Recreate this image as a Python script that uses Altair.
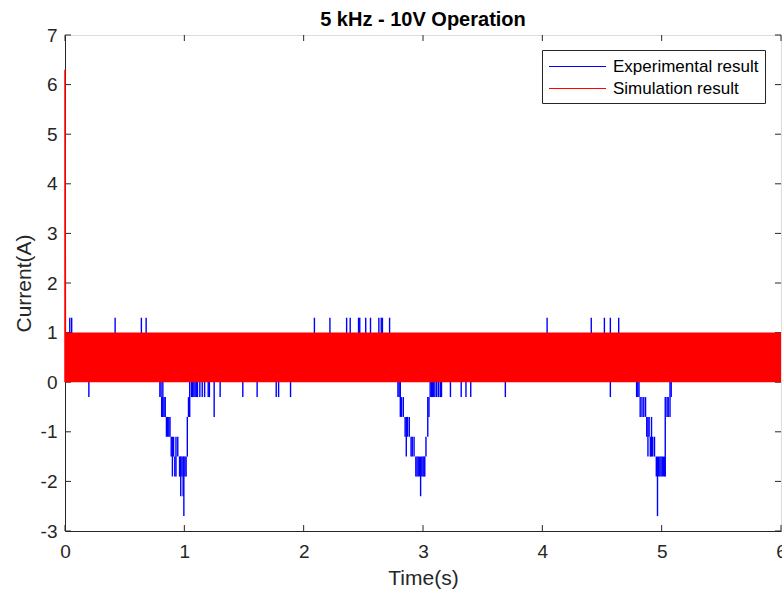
import altair as alt
import pandas as pd

# ---------------- data ----------------
series_names = ["Experimental result", "Simulation result"]
series_colors = ["#0000FF", "#FF0000"]

x_ticks = [0, 1, 2, 3, 4, 5, 6]
y_ticks = [-3, -2, -1, 0, 1, 2, 3, 4, 5, 6, 7]

# Simulation: start-up transient and the fast 0..1 A switching band
sim_t = [0.0, 0.0, 0.004]
sim_i = [0.0, 6.3, 0.0]
sim_band_t0 = [0.0]
sim_band_t1 = [6.0]
sim_band_lo = [0.0]
sim_band_hi = [1.0]

# Experimental: upward spikes (to 1.3 A)
up_t = [0.04, 0.056, 0.42, 0.64, 0.68, 2.09, 2.22, 2.36, 2.39, 2.46, 2.47,
        2.52, 2.56, 2.63, 2.65, 2.66, 2.72, 4.04, 4.41, 4.52, 4.57, 4.64]
up_lo = [0.5] * 22
up_hi = [1.3] * 22

# Experimental: short downward spikes (to -0.3 A)
dn_t = [0.20, 0.795, 0.805, 1.06, 1.07, 1.08, 1.09, 1.10, 1.11, 1.13, 1.15,
        1.17, 1.20, 1.21, 1.30, 1.49, 1.61, 1.77, 1.79, 1.89,
        2.79, 2.80, 3.06, 3.07, 3.08, 3.09, 3.10, 3.115, 3.13, 3.145, 3.155,
        3.23, 3.32, 3.36, 3.40, 3.69, 4.57, 4.79, 4.80, 4.81, 5.08]
dn_lo = [-0.3] * 41
dn_hi = [0.1] * 41

# Experimental: the three current dips (stepped)
dip_t = [0.81, 0.815, 0.82, 0.83, 0.84, 0.85, 0.86, 0.87, 0.88, 0.89, 0.90,
         0.91, 0.92, 0.93, 0.945, 0.96, 0.965, 0.97, 0.98, 0.99, 0.996,
         1.005, 1.015, 1.025, 1.035, 1.045, 1.25,
         2.81, 2.82, 2.835, 2.85, 2.86, 2.87, 2.885, 2.90, 2.91, 2.925, 2.94,
         2.95, 2.96, 2.97, 2.98, 2.99, 3.00, 3.008, 3.015, 3.025, 3.04, 3.05,
         4.82, 4.835, 4.85, 4.865, 4.875, 4.885, 4.895, 4.905, 4.915, 4.925,
         4.94, 4.955, 4.965, 4.975, 4.985, 4.995, 5.005, 5.015, 5.025, 5.03,
         5.045, 5.055, 5.07]
dip_lo = [-0.7, -0.7, -0.7, -0.7, -0.7, -1.1, -1.1, -1.1, -1.1, -1.5, -1.9,
          -1.5, -1.9, -1.9, -1.5, -1.9, -1.9, -2.3, -1.9, -2.3, -2.7,
          -1.9, -1.9, -1.5, -0.7, -0.7, -0.7,
          -0.7, -0.7, -0.7, -1.1, -1.5, -1.1, -1.1, -1.5, -1.5, -1.5, -1.9,
          -1.9, -1.9, -1.9, -2.3, -1.9, -1.9, -1.9, -1.9, -1.5, -1.1, -0.7,
          -0.7, -0.7, -0.7, -0.7, -1.1, -1.5, -1.1, -1.5, -1.5, -1.5,
          -1.5, -1.9, -2.7, -1.9, -1.9, -1.9, -1.9, -1.9, -1.9, -1.9,
          -0.7, -0.7, -0.7]
dip_hi = [-0.3, -0.3, 0.1, -0.3, -0.3, -0.7, -0.7, -0.7, -0.7, -1.1, -1.1,
          -1.1, -1.5, -1.1, -1.1, -1.5, -1.5, -1.5, -1.5, -1.5, -1.5,
          -1.5, -1.5, -0.7, -0.3, 0.1, 0.1,
          0.1, -0.3, -0.3, -0.7, -0.7, -0.7, -0.7, -1.1, -1.1, -1.1, -1.5,
          -1.5, -1.5, -1.5, -1.5, -1.5, -1.5, -1.5, -1.5, -1.1, -0.3, -0.3,
          -0.3, -0.3, -0.3, -0.3, -0.7, -0.7, -0.7, -1.1, -0.7, -1.1,
          -1.1, -1.5, -1.5, -1.5, -1.5, -1.5, -1.5, -1.5, -1.5, -0.3,
          -0.3, -0.3, 0.1]

# ---------------- tables ----------------
exp_df = pd.DataFrame({
    "t": up_t + dn_t + dip_t,
    "lo": up_lo + dn_lo + dip_lo,
    "hi": up_hi + dn_hi + dip_hi,
})
exp_df["series"] = series_names[0]

sim_df = pd.DataFrame({"t": sim_t, "i": sim_i, "k": list(range(len(sim_t)))})
sim_df["series"] = series_names[1]

band_df = pd.DataFrame({"t0": sim_band_t0, "t1": sim_band_t1,
                        "lo": sim_band_lo, "hi": sim_band_hi})
xt_df = pd.DataFrame({"v": x_ticks})
yt_df = pd.DataFrame({"v": y_ticks})

# ---------------- styling ----------------
W, H, TK = 716, 496, 6
FONT = "Liberation Sans"
GRAY = "#262626"

XS = alt.Scale(domain=[0, 6], nice=False, zero=False)
YS = alt.Scale(domain=[-3, 7], nice=False, zero=False)
XA = alt.Axis(title="Time(s)", values=x_ticks, ticks=False, tickSize=0,
              grid=False, domainColor=GRAY, labelColor=GRAY, titleColor=GRAY,
              labelFont=FONT, titleFont=FONT, labelFontSize=19,
              titleFontSize=21, titleFontWeight="normal", labelPadding=11,
              titlePadding=6, labelExpr="'' + datum.value", labelFlush=False)
YA = alt.Axis(title="Current(A)", values=y_ticks, ticks=False, tickSize=0,
              grid=False, domainColor=GRAY, labelColor=GRAY, titleColor=GRAY,
              labelFont=FONT, titleFont=FONT, labelFontSize=19,
              titleFontSize=21, titleFontWeight="normal", labelPadding=8,
              titlePadding=6, labelExpr="'' + datum.value", labelFlush=False)
CS = alt.Scale(domain=series_names, range=series_colors)
LEG = alt.Legend(title=None, orient="none", legendX=477, legendY=15,
                 symbolType="M-1,0H5", symbolSize=361, symbolStrokeWidth=1.2,
                 labelFont=FONT, labelFontSize=17, labelColor="#000000",
                 labelOffset=44, strokeColor=GRAY, fillColor="white",
                 padding=6, rowPadding=3)

# ---------------- layers ----------------
tick_b = alt.Chart(xt_df).mark_rule(color=GRAY).encode(
    x=alt.X("v:Q", scale=XS, axis=XA), y=alt.value(H), y2=alt.value(H - TK))
tick_t = alt.Chart(xt_df).mark_rule(color=GRAY).encode(
    x=alt.X("v:Q", scale=XS, axis=XA), y=alt.value(0), y2=alt.value(TK))
tick_l = alt.Chart(yt_df).mark_rule(color=GRAY).encode(
    y=alt.Y("v:Q", scale=YS, axis=YA), x=alt.value(0), x2=alt.value(TK))
tick_r = alt.Chart(yt_df).mark_rule(color=GRAY).encode(
    y=alt.Y("v:Q", scale=YS, axis=YA), x=alt.value(W), x2=alt.value(W - TK))

exp_layer = alt.Chart(exp_df).mark_rule(strokeWidth=1.4).encode(
    x=alt.X("t:Q", scale=XS, axis=XA),
    y=alt.Y("lo:Q", scale=YS, axis=YA),
    y2="hi:Q",
    color=alt.Color("series:N", scale=CS, legend=LEG),
)

band_layer = alt.Chart(band_df).mark_rect(color="#FF0000").encode(
    x=alt.X("t0:Q", scale=XS, axis=XA), x2="t1:Q",
    y=alt.Y("lo:Q", scale=YS, axis=YA), y2="hi:Q",
)

sim_layer = alt.Chart(sim_df).mark_line(strokeWidth=1.5).encode(
    x=alt.X("t:Q", scale=XS, axis=XA),
    y=alt.Y("i:Q", scale=YS, axis=YA),
    order="k:Q",
    color=alt.Color("series:N", scale=CS, legend=LEG),
)

chart = alt.layer(tick_b, tick_t, tick_l, tick_r, exp_layer, band_layer,
                  sim_layer).properties(
    width=W, height=H,
    title=alt.TitleParams("5 kHz - 10V Operation", font=FONT, fontSize=20,
                          fontWeight="bold", color="#000000", anchor="middle",
                          offset=6, dy=10),
    autosize=alt.AutoSizeParams(type="none"),
    padding={"left": 65, "top": 35, "right": 1, "bottom": 60},
).configure_view(stroke=GRAY, strokeWidth=1).configure(background="white")

chart.save("out.html", embed_options={"renderer": "svg", "actions": False})
